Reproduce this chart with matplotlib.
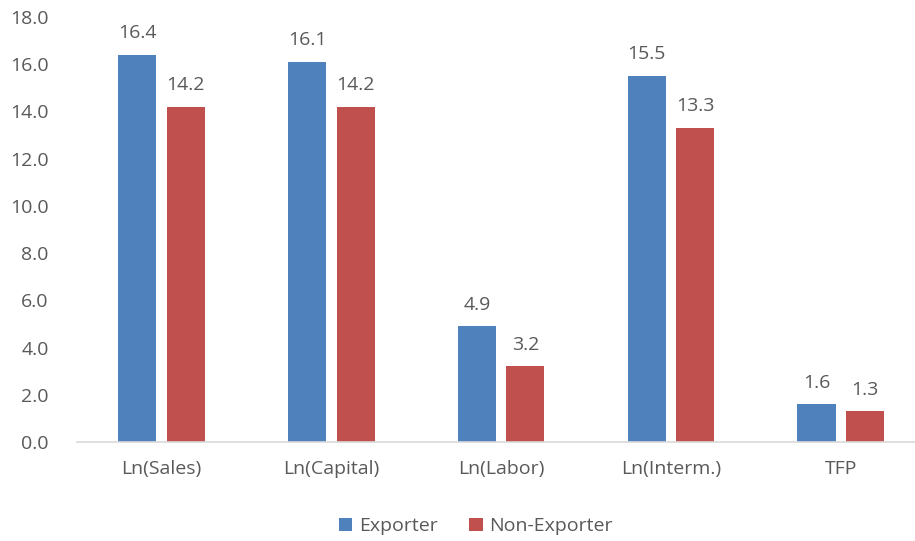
import numpy as np
import matplotlib.pyplot as plt

# firm characteristics: exporters vs non-exporters
categories = ['Ln(Sales)', 'Ln(Capital)', 'Ln(Labor)', 'Ln(Interm.)', 'TFP']
exporter = [16.4, 16.1, 4.9, 15.5, 1.6]
non_exporter = [14.2, 14.2, 3.2, 13.3, 1.3]

plt.rcParams['font.family'] = ['Open Sans', 'DejaVu Sans']
text_col = '#595959'
fs = 14

fig = plt.figure(figsize=(9.15, 5.41), dpi=100)
ax = fig.add_axes([0.0837, 0.183, 0.928, 0.786])

x = np.arange(len(categories))
w = 0.224
off = 0.143
b1 = ax.bar(x - off, exporter, w, color='#4F81BD', label='Exporter')
b2 = ax.bar(x + off, non_exporter, w, color='#C0504D', label='Non-Exporter')

for bars, vals in ((b1, exporter), (b2, non_exporter)):
    for b, v in zip(bars, vals):
        ax.annotate(f'{v:.1f}', (b.get_x() + b.get_width() / 2, v),
                    xytext=(0, 9), textcoords='offset points',
                    ha='center', va='bottom', fontsize=fs, color=text_col)

ax.set_xlim(-0.5, len(categories) - 0.5)
ax.set_ylim(0, 18)
ax.set_yticks(np.arange(0, 18.1, 2))
ax.set_yticklabels([f'{v:.1f}' for v in np.arange(0, 18.1, 2)])
ax.set_xticks(x)
ax.set_xticklabels(categories)
ax.tick_params(axis='both', length=0, labelsize=fs, labelcolor=text_col)
ax.tick_params(axis='x', pad=13)
ax.tick_params(axis='y', pad=20)
for s in ['top', 'right', 'left']:
    ax.spines[s].set_visible(False)
ax.spines['bottom'].set_color('#D9D9D9')
ax.spines['bottom'].set_linewidth(1.2)

fig.legend(loc='center', bbox_to_anchor=(0.52, 0.027), ncol=2, frameon=False,
           fontsize=fs, labelcolor=text_col, handlelength=0.7, handleheight=0.7,
           handletextpad=0.35, columnspacing=1.6)

fig.savefig('out.png', dpi=100)
